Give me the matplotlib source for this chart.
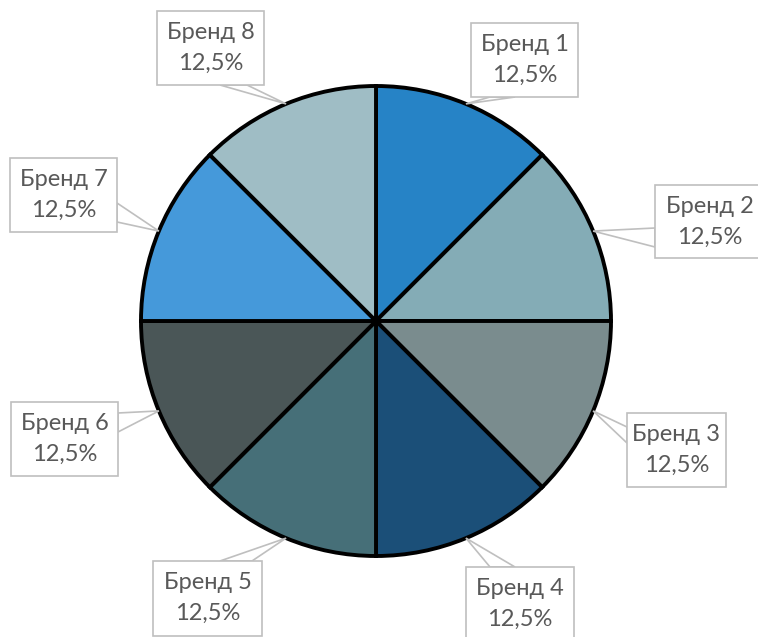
import numpy as np
import matplotlib.pyplot as plt
from matplotlib.patches import Rectangle, Polygon

# chart data
brands = ['Бренд 1', 'Бренд 2', 'Бренд 3', 'Бренд 4', 'Бренд 5', 'Бренд 6', 'Бренд 7', 'Бренд 8']
shares = [12.5, 12.5, 12.5, 12.5, 12.5, 12.5, 12.5, 12.5]
colors = ['#2683C6', '#84ACB6', '#7A8C8E', '#1B4F78', '#466F78', '#4A5657', '#4599DA', '#9FBDC5']

W, H = 758, 637
cx, cy, r = 376, H - 321, 235

# label boxes (x, top, width, height) in pixels from top-left, plus callout base
boxes = [(471, 23, 107, 74), (655, 185, 110, 73), (627, 413, 99, 74), (466, 567, 108, 76),
         (153, 561, 109, 75), (11, 402, 107, 74), (10, 158, 107, 74), (157, 11, 107, 74)]
bases = [((490, 97), (515, 97)), ((655, 228), (655, 247)), ((627, 427), (627, 443)),
         ((490, 567), (515, 567)), ((220, 561), (252, 561)), ((118, 413), (118, 432)),
         ((117, 203), (117, 222)), ((220, 85), (247, 85))]

fig = plt.figure(figsize=(W / 100, H / 100), dpi=100)
ax = fig.add_axes([0, 0, 1, 1])

wedges, _ = ax.pie(shares, colors=colors, startangle=90, counterclock=False,
                   center=(cx, cy), radius=r,
                   wedgeprops=dict(edgecolor='black', linewidth=2.8))

for i, w in enumerate(wedges):
    mid = np.deg2rad((w.theta1 + w.theta2) / 2)
    tip = (cx + r * np.cos(mid), cy + r * np.sin(mid))
    (bx1, by1), (bx2, by2) = bases[i]
    poly = Polygon([(bx1, H - by1), tip, (bx2, H - by2)], closed=True,
                   facecolor='white', edgecolor='#BFBFBF', linewidth=1.2, zorder=3)
    ax.add_patch(poly)
    x, top, bw, bh = boxes[i]
    rect = Rectangle((x, H - top - bh), bw, bh, facecolor='white',
                     edgecolor='#BFBFBF', linewidth=1.2, zorder=4)
    ax.add_patch(rect)
    ax.text(x + bw / 2, H - top - 37, f'{brands[i]}\n{shares[i]:.1f}%'.replace('.', ','),
            ha='center', va='center', fontsize=17, family='Lato', color='#595959',
            linespacing=1.6, zorder=5)

ax.set_xlim(0, W)
ax.set_ylim(0, H)
ax.set_aspect('auto')
ax.axis('off')

plt.savefig('out.png', dpi=100)
